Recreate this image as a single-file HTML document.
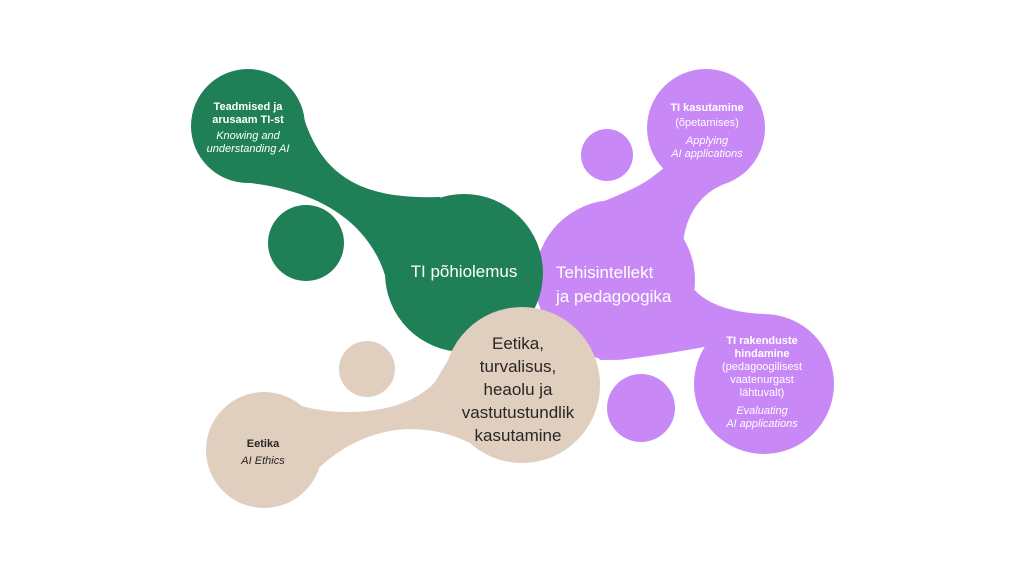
<!DOCTYPE html>
<html><head><meta charset="utf-8"><style>
html,body{margin:0;padding:0;background:#fff;}
svg{display:block;}
text{font-family:"Liberation Sans","DejaVu Sans",sans-serif;}
</style></head><body>
<svg width="1024" height="576" viewBox="0 0 1024 576" xmlns="http://www.w3.org/2000/svg">
<rect width="1024" height="576" fill="#fff"/>
<!-- purple -->
<g fill="#c888f5">
<circle cx="615" cy="280" r="80"/>
<circle cx="706" cy="128" r="59"/>
<circle cx="607" cy="155" r="26"/>
<circle cx="764" cy="384" r="70"/>
<circle cx="641" cy="408" r="34"/>
<path d="M 560,225 C 595,200 630,195 655,175 L 700,140 L 722,185 C 688,200 675,240 688,280 C 698,302 730,313 765,314 L 765,370 L 716,345 C 675,352 635,360 600,360 L 560,300 Z"/>
</g>
<!-- green -->
<g fill="#1f7f56">
<circle cx="248" cy="126" r="57"/>
<circle cx="464" cy="273" r="79"/>
<circle cx="306" cy="243" r="38"/>
<path d="M 302,112 C 320,175 360,200 440,197 L 450,260 L 390,300 C 385,250 350,195 250,183 Z"/>
</g>
<!-- beige -->
<g fill="#e0cfbf">
<circle cx="522" cy="385" r="78"/>
<circle cx="264" cy="450" r="58"/>
<circle cx="367" cy="369" r="28"/>
<path d="M 280,398 C 320,418 400,420 435,382 L 460,340 L 472,444 C 425,420 360,420 305,482 Z"/>
</g>
<!-- green text -->
<g fill="#fff" text-anchor="middle">
<text x="248" y="110" font-size="11" font-weight="bold">Teadmised ja</text>
<text x="248" y="123" font-size="11" font-weight="bold">arusaam TI-st</text>
<text x="248" y="139" font-size="11" font-style="italic">Knowing and</text>
<text x="248" y="152" font-size="11" font-style="italic">understanding AI</text>
<text x="464" y="277" font-size="17">TI põhiolemus</text>
</g>
<!-- purple text -->
<g fill="#fff">
<text x="556" y="278" font-size="17">Tehisintellekt</text>
<text x="556" y="302" font-size="17">ja pedagoogika</text>
</g>
<g fill="#fff" text-anchor="middle" font-size="11">
<text x="707" y="111" font-weight="bold">TI kasutamine</text>
<text x="707" y="126">(õpetamises)</text>
<text x="707" y="144" font-style="italic">Applying</text>
<text x="707" y="157" font-style="italic">AI applications</text>
<text x="762" y="344" font-weight="bold">TI rakenduste</text>
<text x="762" y="357" font-weight="bold">hindamine</text>
<text x="762" y="370">(pedagoogilisest</text>
<text x="762" y="383">vaatenurgast</text>
<text x="762" y="396">lähtuvalt)</text>
<text x="762" y="414" font-style="italic">Evaluating</text>
<text x="762" y="427" font-style="italic">AI applications</text>
</g>
<!-- beige text -->
<g fill="#2a2624" text-anchor="middle" font-size="17">
<text x="518" y="349">Eetika,</text>
<text x="518" y="372">turvalisus,</text>
<text x="518" y="395">heaolu ja</text>
<text x="518" y="418">vastutustundlik</text>
<text x="518" y="441">kasutamine</text>
</g>
<g fill="#2a2624" text-anchor="middle" font-size="11">
<text x="263" y="447" font-weight="bold">Eetika</text>
<text x="263" y="464" font-style="italic">AI Ethics</text>
</g>
</svg>
</body></html>
